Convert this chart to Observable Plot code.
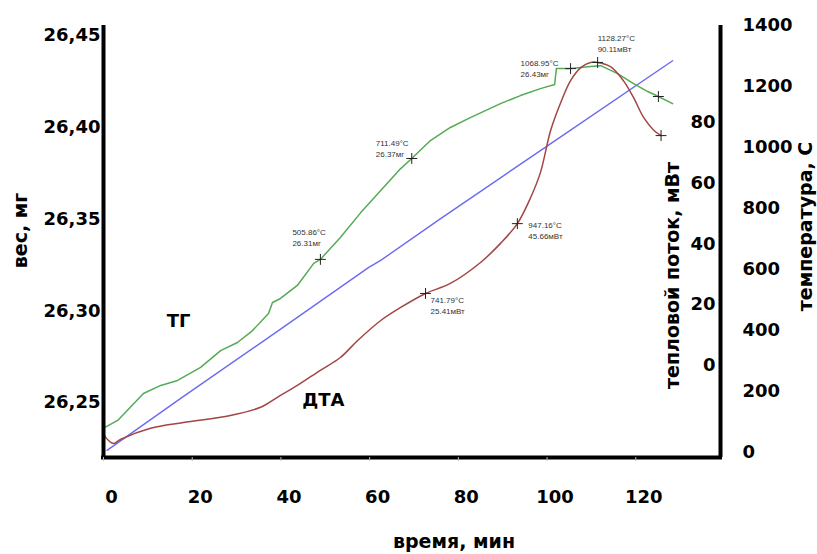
<!DOCTYPE html>
<html><head><meta charset="utf-8">
<script src="https://cdn.jsdelivr.net/npm/d3@7"></script>
<script src="https://cdn.jsdelivr.net/npm/@observablehq/plot@0.6"></script>
<style>body{margin:0;background:#fff} svg{display:block}</style>
</head><body><div id="chart"></div>
<script>
// ТГ (weight, mg) vs time (min)
const tgTime = [0, 3.2, 9.0, 12.9, 16.7, 21.9, 26.4, 30.2, 33.6, 37.2, 38.1, 39.9, 43.7, 47.4, 48.9, 53.4, 58.0, 62.5, 67.0, 69.5, 73.7, 78.2, 82.7, 89.5, 94.0, 98.5, 101.7, 102.1, 105.3, 109.8, 112.1, 115.9, 119.5, 122.7, 125.1, 128.3];
const tgWeight = [26.236, 26.2402, 26.2549, 26.2593, 26.2620, 26.2691, 26.2783, 26.2827, 26.2892, 26.2985, 26.3045, 26.3067, 26.3138, 26.3258, 26.3280, 26.3399, 26.3535, 26.3655, 26.3775, 26.3830, 26.3928, 26.3999, 26.4053, 26.4129, 26.4173, 26.4211, 26.4233, 26.4320, 26.4320, 26.4331, 26.4336, 26.4293, 26.4238, 26.4195, 26.4168, 26.4129];

// ДТА (heat flow, mW) vs time
const dtaTime = [0, 0.5, 2.3, 3.8, 10.6, 18.0, 28.6, 35.4, 39.2, 43.7, 48.9, 53.4, 57.3, 62.5, 67.0, 72.6, 78.2, 85.0, 89.5, 93.3, 96.3, 98.5, 100.8, 103.0, 105.3, 107.6, 109.8, 111.4, 114.3, 117.2, 119.5, 121.8, 124.1, 125.7];
const dtaHeat = [-22.1, -23.7, -25.7, -24.4, -20.7, -18.8, -16.5, -13.8, -10.5, -6.6, -1.6, 2.6, 8.2, 14.8, 19.1, 23.7, 27.0, 33.9, 40.2, 46.7, 55.3, 63.5, 77.4, 86.3, 93.8, 98.1, 99.8, 99.8, 98.4, 93.8, 88.2, 81.6, 77.4, 75.7];

// Temperature (°C) vs time
const tempTime = [0.8, 17.4, 40.0, 59.8, 62.5, 76.0, 100.0, 128.3];
const tempValue = [6.6, 177, 405, 607, 630, 767, 1005, 1285];

// Marked points and their annotations
const tgMarkTime = [48.9, 69.5, 105.3, 125.1];
const tgMarkWeight = [26.328, 26.383, 26.432, 26.4168];
const tgMarkLabel = ["505.86°C\n26.31мг", "711.49°C\n26.37мг", "1068.95°C\n26.43мг", ""];
const dtaMarkTime = [72.6, 93.3, 111.4, 125.7];
const dtaMarkHeat = [23.7, 46.7, 99.8, 75.7];
const dtaMarkLabel = ["741.79°C\n25.41мВт", "947.16°C\n45.66мВт", "1128.27°C\n90.11мВт", ""];

// Axis ticks
const timeTicks = [0, 20, 40, 60, 80, 100, 120];
const weightTicks = [26.25, 26.30, 26.35, 26.40, 26.45];
const heatTicks = [0, 20, 40, 60, 80];
const tempTicks = [0, 200, 400, 600, 800, 1000, 1200, 1400];

// Registration of the secondary axes onto the weight (y) scale
const heatToW = d3.scaleLinear([0, 80], [26.2702, 26.4026]);
const tempToW = d3.scaleLinear([0, 1400], [26.2228, 26.4554]);

const tg = tgTime.map((t, i) => ({t, v: tgWeight[i]}));
const dta = dtaTime.map((t, i) => ({t, v: heatToW(dtaHeat[i])}));
const temp = tempTime.map((t, i) => ({t, v: tempToW(tempValue[i])}));
const tgMarks = tgMarkTime.map((t, i) => ({t, v: tgMarkWeight[i], label: tgMarkLabel[i]}));
const dtaMarks = dtaMarkTime.map((t, i) => ({t, v: heatToW(dtaMarkHeat[i]), label: dtaMarkLabel[i]}));

const GREEN = "#55aa55", BLUE = "#6a6af2", RED = "#a34545";
const small = {x: "t", y: "v", text: "label", fontSize: 8, fontWeight: "normal", fontFamily: "Liberation Sans", fill: "#333", textAnchor: "start", lineAnchor: "top", lineHeight: 1.45};
const ann = (d, dx, dy) => Plot.text([d], {...small, dx, dy});
const title = {fontSize: 19, textAnchor: "middle", lineAnchor: "middle"};

const chart = Plot.plot({
  width: 817, height: 554,
  marginLeft: 103, marginRight: 97, marginTop: 25, marginBottom: 97,
  x: {domain: [0, 139.1]},
  y: {domain: [26.22, 26.4555]},
  style: {fontFamily: "DejaVu Sans", fontSize: "18px", fontWeight: "bold", color: "black", background: "white"},
  marks: [
    Plot.line(temp, {x: "t", y: "v", stroke: BLUE, strokeWidth: 1.4}),
    Plot.line(tg, {x: "t", y: "v", stroke: GREEN, strokeWidth: 1.5}),
    Plot.line(dta, {x: "t", y: "v", stroke: RED, strokeWidth: 1.5, curve: "catmull-rom"}),
    Plot.dot(tgMarks, {x: "t", y: "v", symbol: "plus", r: 3.6, stroke: "#222", strokeWidth: 1}),
    Plot.dot(dtaMarks, {x: "t", y: "v", symbol: "plus", r: 3.6, stroke: "#222", strokeWidth: 1}),
    ann(tgMarks[0], -28, -33),
    ann(tgMarks[1], -36, -21),
    ann(tgMarks[2], -50, -11),
    ann(dtaMarks[0], 5, 1),
    ann(dtaMarks[1], 11, -4),
    ann(dtaMarks[2], 0, -30),
    Plot.text([tg[4]], {x: "t", y: "v", text: () => "ТГ", dx: 1, dy: -59}),
    Plot.text([dta[10]], {x: "t", y: "v", text: () => "ДТА", dx: 3, dy: 30}),
    // frame (left, bottom, right)
    Plot.ruleX([0, 139.1], {stroke: "black", strokeWidth: 4}),
    Plot.ruleY([26.22], {stroke: "black", strokeWidth: 4, strokeLinecap: "square"}),
    // axes
    Plot.axisY(weightTicks, {anchor: "left", tickSize: 0, tickPadding: 3, tickFormat: d => d.toFixed(2).replace(".", ","), label: null}),
    Plot.axisX(timeTicks, {tickSize: 4, stroke: "#bbb", tickFormat: () => "", label: null}),
    Plot.axisX(timeTicks, {tickSize: 0, tickPadding: 33, dx: 8, label: null}),
    Plot.text(heatTicks, {y: d => heatToW(d), text: d => String(d), frameAnchor: "right", textAnchor: "end", dx: -5}),
    Plot.text(tempTicks, {y: d => tempToW(d), text: d => String(d), frameAnchor: "right", textAnchor: "start", dx: 22}),
    // axis titles
    Plot.text([0], {...title, text: () => "вес, мг", frameAnchor: "left", rotate: -90, dx: -83, dy: -11}),
    Plot.text([0], {...title, text: () => "время, мин", frameAnchor: "bottom", dx: 42, dy: 84}),
    Plot.text([0], {...title, text: () => "тепловой поток, мВт", frameAnchor: "right", rotate: -90, dx: -48, dy: 34}),
    Plot.text([0], {...title, text: () => "температура, С", frameAnchor: "right", rotate: -90, dx: 85, dy: -15})
  ]
});
document.getElementById("chart").append(chart);
</script>
</body></html>
